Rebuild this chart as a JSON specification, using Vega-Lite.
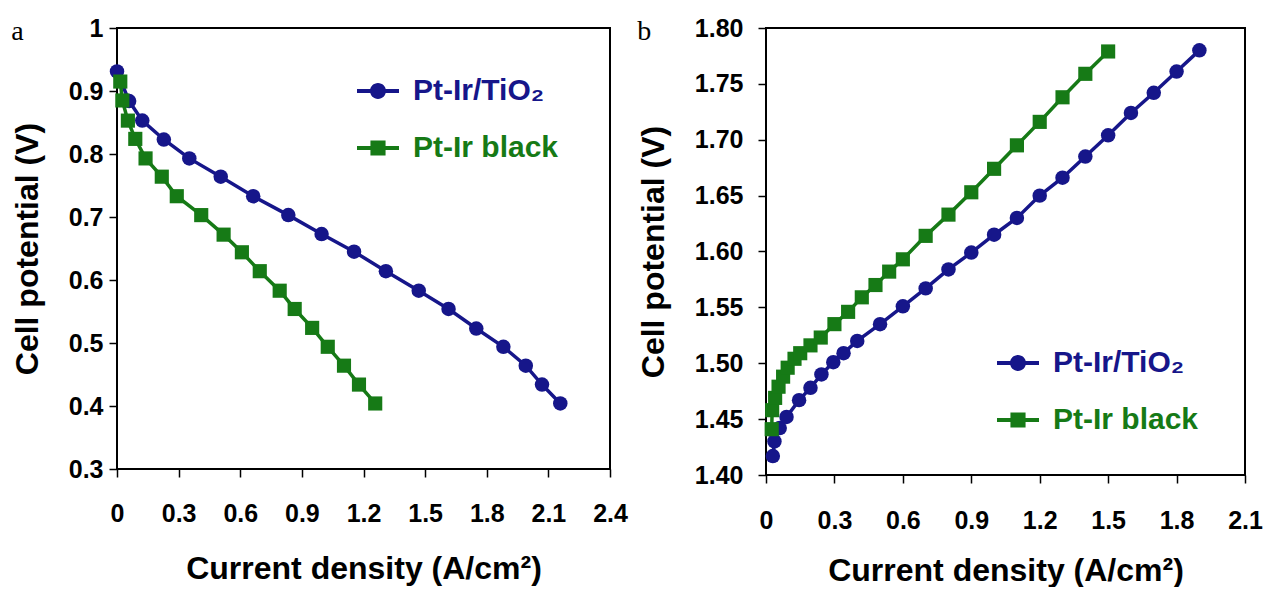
{
  "$schema": "https://vega.github.io/schema/vega-lite/v6.json",
  "background": "white",
  "padding": {"left": 10, "top": 15, "right": 5, "bottom": 0},
  "datasets": {
    "a": [
      {"series": "Pt-Ir/TiO₂", "j": 0.0, "V": 0.931},
      {"series": "Pt-Ir/TiO₂", "j": 0.059, "V": 0.884},
      {"series": "Pt-Ir/TiO₂", "j": 0.123, "V": 0.853},
      {"series": "Pt-Ir/TiO₂", "j": 0.228, "V": 0.823},
      {"series": "Pt-Ir/TiO₂", "j": 0.352, "V": 0.793},
      {"series": "Pt-Ir/TiO₂", "j": 0.505, "V": 0.764},
      {"series": "Pt-Ir/TiO₂", "j": 0.663, "V": 0.733},
      {"series": "Pt-Ir/TiO₂", "j": 0.834, "V": 0.703},
      {"series": "Pt-Ir/TiO₂", "j": 0.996, "V": 0.673},
      {"series": "Pt-Ir/TiO₂", "j": 1.154, "V": 0.645},
      {"series": "Pt-Ir/TiO₂", "j": 1.309, "V": 0.614},
      {"series": "Pt-Ir/TiO₂", "j": 1.469, "V": 0.583},
      {"series": "Pt-Ir/TiO₂", "j": 1.614, "V": 0.554},
      {"series": "Pt-Ir/TiO₂", "j": 1.749, "V": 0.523},
      {"series": "Pt-Ir/TiO₂", "j": 1.881, "V": 0.494},
      {"series": "Pt-Ir/TiO₂", "j": 1.99, "V": 0.464},
      {"series": "Pt-Ir/TiO₂", "j": 2.069, "V": 0.434},
      {"series": "Pt-Ir/TiO₂", "j": 2.158, "V": 0.404},
      {"series": "Pt-Ir black", "j": 0.016, "V": 0.915},
      {"series": "Pt-Ir black", "j": 0.026, "V": 0.885},
      {"series": "Pt-Ir black", "j": 0.053, "V": 0.853},
      {"series": "Pt-Ir black", "j": 0.089, "V": 0.824},
      {"series": "Pt-Ir black", "j": 0.139, "V": 0.793},
      {"series": "Pt-Ir black", "j": 0.218, "V": 0.764},
      {"series": "Pt-Ir black", "j": 0.291, "V": 0.733},
      {"series": "Pt-Ir black", "j": 0.41, "V": 0.703},
      {"series": "Pt-Ir black", "j": 0.519, "V": 0.672},
      {"series": "Pt-Ir black", "j": 0.608, "V": 0.644},
      {"series": "Pt-Ir black", "j": 0.695, "V": 0.614},
      {"series": "Pt-Ir black", "j": 0.792, "V": 0.583},
      {"series": "Pt-Ir black", "j": 0.865, "V": 0.554},
      {"series": "Pt-Ir black", "j": 0.95, "V": 0.524},
      {"series": "Pt-Ir black", "j": 1.026, "V": 0.494},
      {"series": "Pt-Ir black", "j": 1.105, "V": 0.464},
      {"series": "Pt-Ir black", "j": 1.178, "V": 0.434},
      {"series": "Pt-Ir black", "j": 1.257, "V": 0.404}
    ],
    "b": [
      {"series": "Pt-Ir/TiO₂", "j": 0.03, "V": 1.417},
      {"series": "Pt-Ir/TiO₂", "j": 0.037, "V": 1.43},
      {"series": "Pt-Ir/TiO₂", "j": 0.06, "V": 1.442},
      {"series": "Pt-Ir/TiO₂", "j": 0.09, "V": 1.452},
      {"series": "Pt-Ir/TiO₂", "j": 0.145, "V": 1.467},
      {"series": "Pt-Ir/TiO₂", "j": 0.195, "V": 1.478},
      {"series": "Pt-Ir/TiO₂", "j": 0.243, "V": 1.49},
      {"series": "Pt-Ir/TiO₂", "j": 0.295, "V": 1.501},
      {"series": "Pt-Ir/TiO₂", "j": 0.34, "V": 1.509},
      {"series": "Pt-Ir/TiO₂", "j": 0.4, "V": 1.52},
      {"series": "Pt-Ir/TiO₂", "j": 0.5, "V": 1.535},
      {"series": "Pt-Ir/TiO₂", "j": 0.6, "V": 1.551},
      {"series": "Pt-Ir/TiO₂", "j": 0.7, "V": 1.567},
      {"series": "Pt-Ir/TiO₂", "j": 0.8, "V": 1.584},
      {"series": "Pt-Ir/TiO₂", "j": 0.9, "V": 1.599},
      {"series": "Pt-Ir/TiO₂", "j": 1.0, "V": 1.615},
      {"series": "Pt-Ir/TiO₂", "j": 1.1, "V": 1.63},
      {"series": "Pt-Ir/TiO₂", "j": 1.2, "V": 1.65},
      {"series": "Pt-Ir/TiO₂", "j": 1.3, "V": 1.666},
      {"series": "Pt-Ir/TiO₂", "j": 1.4, "V": 1.685},
      {"series": "Pt-Ir/TiO₂", "j": 1.5, "V": 1.704},
      {"series": "Pt-Ir/TiO₂", "j": 1.6, "V": 1.724},
      {"series": "Pt-Ir/TiO₂", "j": 1.7, "V": 1.742},
      {"series": "Pt-Ir/TiO₂", "j": 1.8, "V": 1.761},
      {"series": "Pt-Ir/TiO₂", "j": 1.9, "V": 1.78},
      {"series": "Pt-Ir black", "j": 0.025, "V": 1.441},
      {"series": "Pt-Ir black", "j": 0.027, "V": 1.458},
      {"series": "Pt-Ir black", "j": 0.04, "V": 1.469},
      {"series": "Pt-Ir black", "j": 0.055, "V": 1.479},
      {"series": "Pt-Ir black", "j": 0.075, "V": 1.488},
      {"series": "Pt-Ir black", "j": 0.095, "V": 1.496},
      {"series": "Pt-Ir black", "j": 0.125, "V": 1.504},
      {"series": "Pt-Ir black", "j": 0.15, "V": 1.509},
      {"series": "Pt-Ir black", "j": 0.195, "V": 1.516},
      {"series": "Pt-Ir black", "j": 0.24, "V": 1.523},
      {"series": "Pt-Ir black", "j": 0.3, "V": 1.535},
      {"series": "Pt-Ir black", "j": 0.36, "V": 1.546},
      {"series": "Pt-Ir black", "j": 0.42, "V": 1.559},
      {"series": "Pt-Ir black", "j": 0.48, "V": 1.57},
      {"series": "Pt-Ir black", "j": 0.54, "V": 1.582},
      {"series": "Pt-Ir black", "j": 0.6, "V": 1.593},
      {"series": "Pt-Ir black", "j": 0.7, "V": 1.614},
      {"series": "Pt-Ir black", "j": 0.8, "V": 1.633},
      {"series": "Pt-Ir black", "j": 0.9, "V": 1.653},
      {"series": "Pt-Ir black", "j": 1.0, "V": 1.674},
      {"series": "Pt-Ir black", "j": 1.1, "V": 1.695},
      {"series": "Pt-Ir black", "j": 1.2, "V": 1.716},
      {"series": "Pt-Ir black", "j": 1.3, "V": 1.738},
      {"series": "Pt-Ir black", "j": 1.4, "V": 1.759},
      {"series": "Pt-Ir black", "j": 1.5, "V": 1.779}
    ]
  },
  "config": {
    "view": {"stroke": "black", "strokeWidth": 2},
    "axis": {
      "grid": false, "domain": false,
      "tickColor": "black", "tickWidth": 1.5, "tickSize": 8,
      "labelFont": "Liberation Sans", "labelFontWeight": "bold", "labelFontSize": 25, "labelColor": "black",
      "labelFlush": false, "labelOverlap": false,
      "titleFont": "Liberation Sans", "titleFontWeight": "bold", "titleFontSize": 32, "titleColor": "black"
    },
    "legend": {
      "orient": "none", "title": null, "padding": 0, "symbolSize": 1764,
      "labelFont": "Liberation Sans", "labelFontSize": 30, "labelFontWeight": "bold",
      "labelOffset": 14, "rowPadding": 21
    },
    "title": {"font": "Liberation Serif", "fontSize": 28, "fontWeight": "normal", "color": "black", "anchor": "start", "frame": "bounds"}
  },
  "resolve": {"scale": {"color": "independent"}, "legend": {"color": "independent"}},
  "spacing": 7,
  "hconcat": [
    {
      "width": 493, "height": 441,
      "title": {"text": "a", "offset": -52, "baseline": "alphabetic"},
      "data": {"name": "a"},
      "encoding": {
        "x": {"field": "j", "type": "quantitative",
              "scale": {"domain": [0, 2.4], "nice": false, "zero": false},
              "axis": {"values": [0, 0.3, 0.6, 0.9, 1.2, 1.5, 1.8, 2.1, 2.4], "labelPadding": 24, "titlePadding": 27,
                       "labelExpr": "datum.value === 0 ? '0' : format(datum.value, '.1f')",
                       "title": "Current density (A/cm²)"}},
        "y": {"field": "V", "type": "quantitative",
              "scale": {"domain": [0.3, 1.0], "nice": false, "zero": false},
              "axis": {"values": [0.3, 0.4, 0.5, 0.6, 0.7, 0.8, 0.9, 1.0], "labelPadding": 6, "titlePadding": 24,
                       "labelExpr": "datum.value === 1 ? '1' : format(datum.value, '.1f')",
                       "title": "Cell potential (V)"}},
        "color": {"field": "series", "type": "nominal",
                  "scale": {"domain": ["Pt-Ir/TiO₂", "Pt-Ir black"], "range": ["#16168a", "#167a16"]},
                  "legend": {"legendX": 240, "legendY": 42,
                             "encode": {
                               "symbols": {"update": {
                                 "shape": {"signal": "datum.value === 'Pt-Ir black' ? 'M-1,-0.095H1V0.095H-1Z M-0.36,-0.36H0.36V0.36H-0.36Z' : 'M-1,-0.095H1V0.095H-1Z M-0.38,0A0.38,0.38 0 1,1 0.38,0A0.38,0.38 0 1,1 -0.38,0Z'"},
                                 "fill": {"signal": "datum.value === 'Pt-Ir black' ? '#167a16' : '#16168a'"},
                                 "stroke": {"value": "transparent"},
                                 "strokeWidth": {"value": 0},
                                 "opacity": {"value": 1}}},
                               "labels": {"update": {"fill": {"signal": "datum.value === 'Pt-Ir black' ? '#167a16' : '#16168a'"}}}
                             }}}
      },
      "layer": [
        {"mark": {"type": "line", "strokeWidth": 3.5}},
        {"transform": [{"filter": "datum.series === 'Pt-Ir/TiO₂'"}],
         "mark": {"type": "point", "shape": "circle", "filled": true, "opacity": 1, "size": 210}},
        {"transform": [{"filter": "datum.series === 'Pt-Ir black'"}],
         "mark": {"type": "point", "shape": "square", "filled": true, "opacity": 1, "size": 200}}
      ]
    },
    {
      "width": 479, "height": 447,
      "title": {"text": "b", "offset": -52, "baseline": "alphabetic"},
      "data": {"name": "b"},
      "encoding": {
        "x": {"field": "j", "type": "quantitative",
              "scale": {"domain": [0, 2.1], "nice": false, "zero": false},
              "axis": {"values": [0, 0.3, 0.6, 0.9, 1.2, 1.5, 1.8, 2.1], "labelPadding": 25, "titlePadding": 22,
                       "labelExpr": "datum.value === 0 ? '0' : format(datum.value, '.1f')",
                       "title": "Current density (A/cm²)"}},
        "y": {"field": "V", "type": "quantitative",
              "scale": {"domain": [1.4, 1.8], "nice": false, "zero": false},
              "axis": {"values": [1.4, 1.45, 1.5, 1.55, 1.6, 1.65, 1.7, 1.75, 1.8], "format": ".2f", "labelPadding": 15, "titlePadding": 24,
                       "title": "Cell potential (V)"}},
        "color": {"field": "series", "type": "nominal",
                  "scale": {"domain": ["Pt-Ir/TiO₂", "Pt-Ir black"], "range": ["#16168a", "#167a16"]},
                  "legend": {"legendX": 231, "legendY": 314,
                             "encode": {
                               "symbols": {"update": {
                                 "shape": {"signal": "datum.value === 'Pt-Ir black' ? 'M-1,-0.095H1V0.095H-1Z M-0.36,-0.36H0.36V0.36H-0.36Z' : 'M-1,-0.095H1V0.095H-1Z M-0.38,0A0.38,0.38 0 1,1 0.38,0A0.38,0.38 0 1,1 -0.38,0Z'"},
                                 "fill": {"signal": "datum.value === 'Pt-Ir black' ? '#167a16' : '#16168a'"},
                                 "stroke": {"value": "transparent"},
                                 "strokeWidth": {"value": 0},
                                 "opacity": {"value": 1}}},
                               "labels": {"update": {"fill": {"signal": "datum.value === 'Pt-Ir black' ? '#167a16' : '#16168a'"}}}
                             }}}
      },
      "layer": [
        {"mark": {"type": "line", "strokeWidth": 3.5}},
        {"transform": [{"filter": "datum.series === 'Pt-Ir/TiO₂'"}],
         "mark": {"type": "point", "shape": "circle", "filled": true, "opacity": 1, "size": 210}},
        {"transform": [{"filter": "datum.series === 'Pt-Ir black'"}],
         "mark": {"type": "point", "shape": "square", "filled": true, "opacity": 1, "size": 200}}
      ]
    }
  ]
}
